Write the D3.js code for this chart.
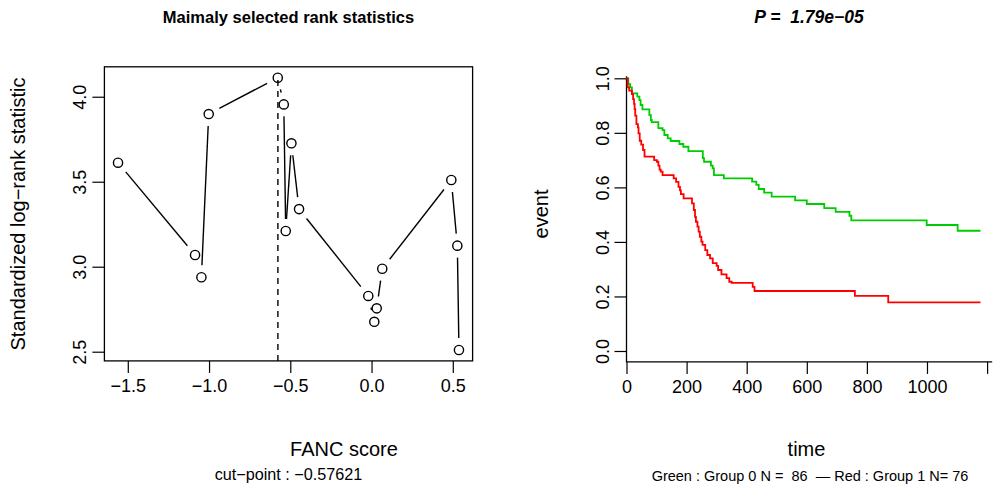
<!DOCTYPE html>
<html>
<head>
<meta charset="utf-8">
<script src="https://cdn.jsdelivr.net/npm/d3@7"></script>
<style>
  body { margin: 0; background: #fff; }
  svg { font-family: "Liberation Sans", Arial, Helvetica, sans-serif; }
</style>
</head>
<body>
<svg id="chart" width="993" height="492"></svg>
<script>
// ---- left panel: maximally selected rank statistics ----
const fancScore   = [-1.560, -1.086, -1.047, -1.002, -0.577, -0.540, -0.528, -0.493, -0.446, -0.020, 0.017, 0.032, 0.066, 0.491, 0.528, 0.538];
const logRankStat = [ 3.612,  3.069,  2.938,  3.898,  4.112,  3.955,  3.210,  3.726,  3.339,  2.828, 2.676, 2.755, 2.988, 3.510, 3.124, 2.510];
const cutPoint = -0.57621;
const leftXTicks = [-1.5, -1.0, -0.5, 0.0, 0.5];
const leftYTicks = [2.5, 3.0, 3.5, 4.0];

// ---- right panel: Kaplan-Meier curves ----
const greenTime = [0, 6, 12, 18, 36, 43, 47, 53, 76, 81, 84, 106, 120, 126, 137, 147, 176, 189, 206, 254, 258, 281, 287, 291, 324, 418, 432, 440, 458, 483, 561, 600, 658, 696, 742, 748, 999, 1102];
const greenSurv = [1.0, 0.979, 0.967, 0.945, 0.933, 0.920, 0.902, 0.886, 0.865, 0.847, 0.839, 0.817, 0.810, 0.792, 0.780, 0.770, 0.759, 0.749, 0.733, 0.707, 0.694, 0.680, 0.670, 0.645, 0.633, 0.621, 0.609, 0.594, 0.581, 0.566, 0.552, 0.539, 0.524, 0.510, 0.496, 0.479, 0.462, 0.441];
const redTime = [0, 4, 9, 18, 22, 25, 27, 29, 33, 38, 40, 44, 49, 55, 60, 92, 101, 106, 110, 114, 120, 157, 165, 173, 178, 181, 190, 218, 224, 228, 231, 236, 240, 244, 249, 253, 262, 269, 278, 287, 300, 305, 316, 333, 342, 350, 420, 426, 760, 871];
const redSurv = [1.0, 0.967, 0.955, 0.942, 0.924, 0.906, 0.887, 0.863, 0.832, 0.820, 0.798, 0.771, 0.757, 0.737, 0.713, 0.700, 0.694, 0.680, 0.665, 0.658, 0.645, 0.633, 0.620, 0.602, 0.589, 0.575, 0.560, 0.541, 0.517, 0.492, 0.474, 0.456, 0.438, 0.419, 0.401, 0.389, 0.370, 0.352, 0.340, 0.322, 0.312, 0.297, 0.281, 0.267, 0.254, 0.250, 0.235, 0.220, 0.202, 0.178];
const lastTime = 1178;
const rightXTicks = [0, 200, 400, 600, 800, 1000, 1200];
const rightYTicks = [0.0, 0.2, 0.4, 0.6, 0.8, 1.0];

const svg = d3.select("#chart");
const fmt1 = d3.format(".1f");
const tickLen = 12;

function styleAxis(g) {
  g.select(".domain").remove();
  g.selectAll(".tick line").attr("stroke", "#000").attr("stroke-width", 1.2);
  g.selectAll(".tick text").attr("fill", "#000").attr("font-size", 18);
}

// ===================== left panel =====================
const ext = (lo, hi) => [lo - 0.04 * (hi - lo), hi + 0.04 * (hi - lo)];
const xL = d3.scaleLinear().domain(ext(d3.min(fancScore), d3.max(fancScore))).range([104.4, 472.6]);
const yL = d3.scaleLinear().domain(ext(d3.min(logRankStat), d3.max(logRankStat))).range([360.9, 66.8]);

const left = svg.append("g");

left.append("g")
  .attr("transform", `translate(0,${yL.range()[0]})`)
  .call(d3.axisBottom(xL).tickValues(leftXTicks).tickFormat(fmt1).tickSize(tickLen).tickSizeOuter(0))
  .call(styleAxis)
  .call(g => g.selectAll(".tick text").attr("y", 31).attr("dy", 0));

left.append("g")
  .attr("transform", `translate(${xL.range()[0]},0)`)
  .call(d3.axisLeft(yL).tickValues(leftYTicks).tickFormat(fmt1).tickSize(tickLen).tickSizeOuter(0))
  .call(styleAxis)
  .call(g => g.selectAll(".tick text")
    .attr("x", null).attr("dy", 0)
    .attr("text-anchor", "middle")
    .attr("transform", "translate(-18,0) rotate(-90)"));

left.append("rect")
  .attr("x", xL.range()[0]).attr("y", yL.range()[1])
  .attr("width", xL.range()[1] - xL.range()[0])
  .attr("height", yL.range()[0] - yL.range()[1])
  .attr("fill", "none").attr("stroke", "#000").attr("stroke-width", 1.3);

// type = "b": segments between points, with a gap around each point
const pts = fancScore.map((x, i) => ({ x: xL(x), y: yL(logRankStat[i]) })).sort((a, b) => a.x - b.x);
const gap = 12;
const segs = [];
for (let i = 0; i < pts.length - 1; i++) {
  const a = pts[i], b = pts[i + 1];
  const dx = b.x - a.x, dy = b.y - a.y, len = Math.hypot(dx, dy);
  if (len <= 2 * gap) continue;
  const ux = dx / len, uy = dy / len;
  segs.push({ x1: a.x + ux * gap, y1: a.y + uy * gap, x2: b.x - ux * gap, y2: b.y - uy * gap });
}
left.selectAll("line.seg").data(segs).join("line")
  .attr("class", "seg")
  .attr("x1", d => d.x1).attr("y1", d => d.y1)
  .attr("x2", d => d.x2).attr("y2", d => d.y2)
  .attr("stroke", "#000").attr("stroke-width", 1.4);

left.append("line")
  .attr("x1", xL(cutPoint)).attr("x2", xL(cutPoint))
  .attr("y1", yL.range()[0]).attr("y2", yL(d3.max(logRankStat)))
  .attr("stroke", "#000").attr("stroke-width", 1.4)
  .attr("stroke-dasharray", "6,5");

left.selectAll("circle").data(pts).join("circle")
  .attr("cx", d => d.x).attr("cy", d => d.y).attr("r", 4.6)
  .attr("fill", "none").attr("stroke", "#000").attr("stroke-width", 1.4);

left.append("text").attr("x", 288.5).attr("y", 23)
  .attr("text-anchor", "middle").attr("font-size", 16.5).attr("font-weight", "bold")
  .text("Maimaly selected rank statistics");
left.append("text").attr("x", 344).attr("y", 456)
  .attr("text-anchor", "middle").attr("font-size", 20)
  .text("FANC score");
left.append("text").attr("x", 288.5).attr("y", 480)
  .attr("text-anchor", "middle").attr("font-size", 16.2)
  .text("cut\u2212point : \u22120.57621");
left.append("text")
  .attr("transform", "translate(25,214) rotate(-90)")
  .attr("text-anchor", "middle").attr("font-size", 20)
  .text("Standardized log\u2212rank statistic");

// ===================== right panel =====================
const xR = d3.scaleLinear().domain([0, 1217]).range([626.5, 992.2]);
const yR = d3.scaleLinear().domain([-0.04, 1.0]).range([361.9, 78.3]);

const right = svg.append("g");

right.append("g")
  .attr("transform", `translate(0,${yR.range()[0]})`)
  .call(d3.axisBottom(xR).tickValues(rightXTicks)
    .tickFormat(d => d === 1200 ? "" : d3.format("d")(d))
    .tickSize(tickLen).tickSizeOuter(0))
  .call(styleAxis)
  .call(g => g.selectAll(".tick text").attr("y", 31).attr("dy", 0));

right.append("g")
  .attr("transform", `translate(${xR.range()[0]},0)`)
  .call(d3.axisLeft(yR).tickValues(rightYTicks).tickFormat(fmt1).tickSize(tickLen).tickSizeOuter(0))
  .call(styleAxis)
  .call(g => g.selectAll(".tick text")
    .attr("x", null).attr("dy", 0)
    .attr("text-anchor", "middle")
    .attr("transform", "translate(-18,0) rotate(-90)"));

// L-shaped frame
right.append("path")
  .attr("d", `M${xR.range()[0]},${yR.range()[1] - 2}V${yR.range()[0]}H${xR.range()[1]}`)
  .attr("fill", "none").attr("stroke", "#000").attr("stroke-width", 1.3);

const step = d3.line().x(d => xR(d[0])).y(d => yR(d[1])).curve(d3.curveStepAfter);
const toPts = (t, s) => t.map((v, i) => [v, s[i]]).concat([[lastTime, s[s.length - 1]]]);

right.append("path").attr("d", step(toPts(greenTime, greenSurv)))
  .attr("fill", "none").attr("stroke", "#00cd00").attr("stroke-width", 1.8);
right.append("path").attr("d", step(toPts(redTime, redSurv)))
  .attr("fill", "none").attr("stroke", "#ff0000").attr("stroke-width", 1.8);

right.append("text").attr("x", 809).attr("y", 23)
  .attr("text-anchor", "middle").attr("font-size", 17.5)
  .attr("font-weight", "bold").attr("font-style", "italic")
  .attr("xml:space", "preserve")
  .text("P =  1.79e\u221205");
right.append("text").attr("x", 806.5).attr("y", 456)
  .attr("text-anchor", "middle").attr("font-size", 20)
  .text("time");
right.append("text").attr("x", 810).attr("y", 481)
  .attr("text-anchor", "middle").attr("font-size", 14.5)
  .attr("xml:space", "preserve")
  .text("Green : Group 0 N =  86  \u2014 Red : Group 1 N= 76");
right.append("text")
  .attr("transform", "translate(548,214) rotate(-90)")
  .attr("text-anchor", "middle").attr("font-size", 20)
  .text("event");
</script>
</body>
</html>
